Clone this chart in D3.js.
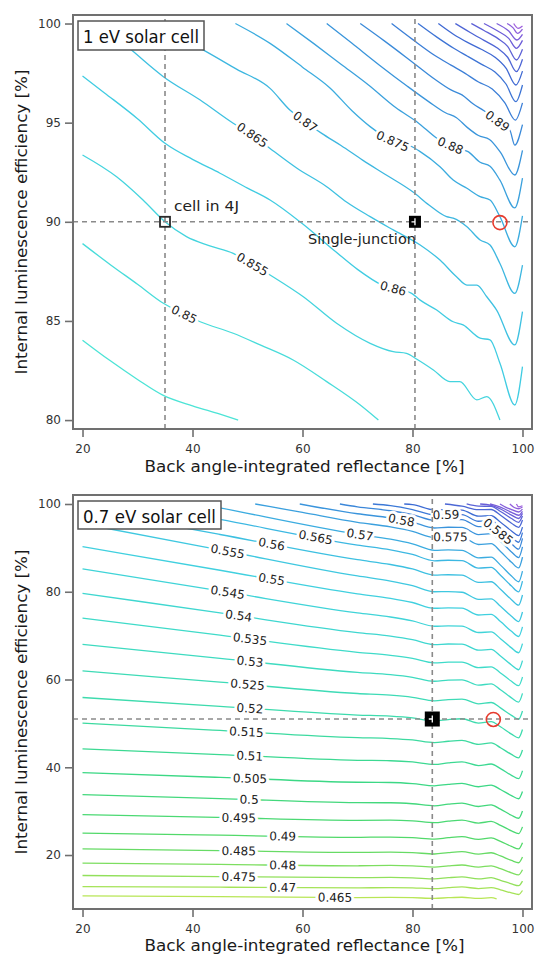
<!DOCTYPE html>
<html><head><meta charset="utf-8">
<script src="https://cdnjs.cloudflare.com/ajax/libs/d3/7.8.5/d3.min.js"></script>
<style>
body{margin:0;background:#fff;}
svg{display:block;}
text{font-family:"DejaVu Sans",Verdana,sans-serif;}
</style>
</head><body>
<svg id="chart" width="537" height="956"></svg>
<script>
// ---------------- DATA ----------------
const xTicks = [20, 40, 60, 80, 100];
const topYTicks = [80, 85, 90, 95, 100];
const bottomYTicks = [20, 40, 60, 80, 100];
const xTitle = "Back angle-integrated reflectance [%]";
const yTitle = "Internal luminescence efficiency [%]";
const topTitle = "1 eV solar cell";
const bottomTitle = "0.7 eV solar cell";

// top panel (1 eV) contour levels and their traced lines [reflectance, efficiency]
const topLevels = [0.845,0.85,0.855,0.86,0.865,0.87,0.875,0.88,0.885,0.89,0.895,0.9,0.905,0.91,0.915,0.92,0.925,0.93,0.935];
const topPaths = [
 [[20,84.03],[25,83.0],[30,82.05],[34.6,81.26],[40,80.72],[45,80.3],[48.3,80.0]],
 [[20,88.9],[25,87.85],[30,86.85],[34.7,85.89],[38,85.4],[41.4,84.96],[47.4,84.38],[52.3,83.79],[58.3,83.03],[64.4,81.94],[70.5,80.76],[73.8,80.0]],
 [[20,93.37],[26.2,92.27],[31,91.1],[35,90.0],[38.9,89.25],[43,88.8],[47.4,88.41],[51,87.85],[54.1,87.32],[60.15,86.22],[66.2,84.88],[72.3,83.87],[76.5,83.45],[78.9,83.37],[80.8,83.07],[83.8,82.53],[86.8,81.94],[88.6,81.94],[91.7,81.02],[93.5,81.18],[95.9,80.0]],
 [[20,97.35],[24,96.5],[30,95.2],[35,93.96],[40,93.15],[45,92.45],[50,91.7],[54.1,91.1],[60,89.9],[66,88.5],[70,87.6],[74.5,86.8],[79.85,86.39],[81.4,86.05],[84.4,85.55],[87.4,84.96],[89.2,84.8],[92.3,84.13],[94.1,84.05],[95.9,82.87],[98.6,80.76],[100,82.7]],
 [[23,100],[28.9,98.66],[34.7,97.32],[41.4,96.14],[47.4,94.97],[50.9,94.38],[54.1,93.7],[59,92.7],[64.4,91.77],[68,91.0],[72.3,90.26],[76.5,89.59],[81.4,88.83],[85.0,88.07],[88.0,87.23],[89.9,86.81],[91.7,86.81],[93.5,86.22],[95.3,85.55],[98.6,83.79],[100,85.47]],
 [[33.5,100],[38,99.25],[42,98.66],[48,97.7],[54.1,96.73],[57.7,95.64],[60.5,95.05],[63.5,94.46],[67,93.85],[71,93.1],[75,92.4],[80.1,91.5],[83,90.85],[86.2,90.26],[87.4,90.18],[89.9,89.75],[92.3,89.08],[94.1,88.83],[95.9,87.9],[98.6,86.39],[100,87.82]],
 [[47.8,100],[54.1,99.0],[60,97.8],[65,96.75],[69,95.6],[72.3,94.8],[76.4,94.07],[79.5,93.85],[81.4,93.54],[85,92.78],[87.4,92.11],[89.9,91.69],[92.3,91.27],[94.1,91.1],[95.9,90.26],[98.6,88.74],[100,90.3]],
 [[57.1,100],[62,99.0],[67,97.95],[72,96.9],[77,95.75],[81,95.0],[84.5,94.2],[86.9,93.85],[88.5,93.7],[90.1,93.54],[92.3,93.0],[94.1,92.8],[95.9,92.1],[98.6,90.7],[100,92.2]],
 [[64.4,100],[69,99.0],[74,97.9],[79,96.85],[83,96.05],[86,95.5],[88,95.25],[90,94.75],[92,94.35],[94,94.15],[96,93.5],[98.6,92.36],[100,93.6]],
 [[70.5,100],[75,99.1],[80,98.05],[84,97.2],[87,96.65],[89,96.4],[91,95.95],[93,95.6],[95.4,95.1],[97.7,94.63],[98.6,93.87],[100,94.9]],
 [[76.2,100],[80,99.2],[84,98.4],[87,97.9],[89.5,97.5],[92,97.05],[94.5,96.7],[96.8,96.0],[98.7,95.13],[100,96.0]],
 [[81,100],[84.5,99.3],[87.5,98.75],[90,98.35],[92.5,97.95],[95,97.55],[97,96.95],[98.8,96.06],[100,96.9]],
 [[84.7,100],[87.5,99.45],[90,99.05],[92.5,98.7],[95,98.3],[97,97.75],[98.8,96.9],[100,97.6]],
 [[87.8,100],[90.5,99.55],[93,99.15],[95.5,98.75],[97.3,98.3],[98.9,97.57],[100,98.2]],
 [[90.7,100],[93,99.65],[95.5,99.25],[97.3,98.85],[98.9,98.16],[100,98.7]],
 [[93,100],[95.5,99.62],[97.5,99.25],[98.9,98.75],[100,99.15]],
 [[95.3,100],[97.5,99.62],[99,99.17],[100,99.45]],
 [[97.2,100],[98.3,99.78],[99.1,99.5],[100,99.72]],
 [[98.4,100],[99.2,99.76],[100,99.88]]
];
// contour labels: [level, reflectance position]
const topLabels = [[0.85,38.5],[0.855,50.9],[0.86,76.5],[0.865,50.9],[0.87,60.5],[0.875,76.4],[0.88,86.9],[0.89,95.45]];
const topColorLevels = [0.845, 0.86, 0.875, 0.89, 0.905, 0.92, 0.935];
const topColorValues = ["#4CE4D6", "#40CCE2", "#3BACDF", "#3A8AD9", "#3F69D3", "#6C5DD8", "#9E5EDD"];

// bottom panel (0.7 eV)
const bottomLevels = [0.465,0.47,0.475,0.48,0.485,0.49,0.495,0.5,0.505,0.51,0.515,0.52,0.525,0.53,0.535,0.54,0.545,0.55,0.555,0.56,0.565,0.57,0.575,0.58,0.585,0.59,0.595,0.6,0.605,0.61,0.615,0.62,0.625,0.63];
const bottomPaths = [
 [[20,10.71],[45,10.51],[70,10.31],[76,10.34],[80,10.28],[84,10.12],[86.5,10.28],[89,10.38],[92,10.11],[94.3,10.27],[95.3,10.0]],
 [[20,12.82],[45,12.67],[70,12.52],[76,12.59],[80,12.53],[84,12.34],[86.5,12.56],[89,12.73],[92,12.36],[94.3,12.58],[96,12.08],[98,11.37],[99.3,11.01],[100,11.92]],
 [[20,15.33],[45,15.08],[70,14.83],[76,14.89],[80,14.81],[84,14.57],[86.5,14.83],[89,15.0],[92,14.57],[94.3,14.83],[96,14.25],[98,13.43],[99.3,13.02],[100,14.05]],
 [[20,18.15],[45,17.85],[70,17.55],[76,17.62],[80,17.52],[84,17.25],[86.5,17.53],[89,17.73],[92,17.25],[94.3,17.53],[96,16.88],[98,15.95],[99.3,15.49],[100,16.65]],
 [[20,21.41],[45,21.01],[70,20.61],[76,20.66],[80,20.55],[84,20.24],[86.5,20.55],[89,20.76],[92,20.21],[94.3,20.52],[96,19.79],[98,18.76],[99.3,18.24],[100,19.53]],
 [[20,24.99],[45,24.52],[70,24.04],[76,24.1],[80,23.96],[84,23.61],[86.5,23.95],[89,24.18],[92,23.57],[94.3,23.91],[96,23.11],[98,21.97],[99.3,21.39],[100,22.81]],
 [[20,29.22],[45,28.57],[70,27.92],[76,27.94],[80,27.78],[84,27.38],[86.5,27.73],[89,27.97],[92,27.29],[94.3,27.65],[96,26.76],[98,25.51],[99.3,24.88],[100,26.42]],
 [[20,33.78],[45,32.86],[70,31.93],[76,31.91],[80,31.69],[84,31.22],[86.5,31.58],[89,31.82],[92,31.06],[94.3,31.42],[96,30.45],[98,29.07],[99.3,28.38],[100,30.04]],
 [[20,38.79],[45,37.69],[70,36.59],[76,36.53],[80,36.28],[84,35.78],[86.5,36.12],[89,36.34],[92,35.56],[94.3,35.91],[96,34.93],[98,33.54],[99.3,32.83],[100,34.49]],
 [[20,44.19],[45,42.89],[70,41.59],[76,41.49],[80,41.21],[84,40.65],[86.5,41.01],[89,41.23],[92,40.38],[94.3,40.75],[96,39.68],[98,38.17],[99.3,37.41],[100,39.19]],
 [[20,50.04],[45,48.39],[70,46.74],[76,46.55],[80,46.22],[84,45.61],[86.5,45.93],[89,46.12],[92,45.22],[94.3,45.56],[96,44.46],[98,42.93],[99.3,42.15],[100,43.92]],
 [[20,55.9],[45,53.9],[70,51.9],[76,51.65],[80,51.25],[84,50.56],[86.5,50.88],[89,51.06],[92,50.07],[94.3,50.41],[96,49.22],[98,47.56],[99.3,46.71],[100,48.6]],
 [[20,61.96],[45,59.39],[70,56.81],[76,56.42],[80,55.93],[84,55.15],[86.5,55.41],[89,55.53],[92,54.47],[94.3,54.76],[96,53.53],[98,51.83],[99.3,50.94],[100,52.82]],
 [[20,68.03],[45,64.83],[70,61.63],[76,61.1],[80,60.51],[84,59.6],[86.5,59.84],[89,59.92],[92,58.73],[94.3,59.0],[96,57.66],[98,55.81],[99.3,54.84],[100,56.83]],
 [[20,74.0],[45,70.1],[70,66.2],[76,65.5],[80,64.8],[84,63.78],[86.5,63.95],[89,63.96],[92,62.69],[94.3,62.89],[96,61.5],[98,59.59],[99.3,58.59],[100,60.56]],
 [[20,79.65],[45,75.18],[70,70.7],[76,69.89],[80,69.08],[84,67.94],[86.5,68.09],[89,68.07],[92,66.68],[94.3,66.86],[96,65.37],[98,63.31],[99.3,62.23],[100,64.31]],
 [[20,85.19],[45,80.19],[70,75.19],[76,74.25],[80,73.36],[84,72.14],[86.5,72.23],[89,72.16],[92,70.71],[94.3,70.84],[96,69.31],[98,67.21],[99.3,66.1],[100,68.17]],
 [[20,90.27],[45,84.9],[70,79.52],[76,78.5],[80,77.55],[84,76.24],[86.5,76.33],[89,76.25],[92,74.7],[94.3,74.84],[96,73.21],[98,70.98],[99.3,69.8],[100,71.99]],
 [[20,95.5],[45,89.55],[70,83.6],[76,82.44],[80,81.4],[84,80.0],[86.5,80.03],[89,79.89],[92,78.27],[94.3,78.36],[96,76.69],[98,74.42],[99.3,73.21],[100,75.38]],
 [[20,98.8],[45,93.05],[70,87.3],[76,86.21],[80,85.19],[84,83.8],[86.5,83.88],[89,83.79],[92,82.15],[94.3,82.28],[96,80.56],[98,78.2],[99.3,76.95],[100,79.26]],
 [[30,100],[45,96.49],[70,90.64],[76,89.54],[80,88.5],[84,87.06],[86.5,87.18],[89,87.09],[92,85.39],[94.3,85.55],[96,83.76],[98,81.29],[99.3,79.98],[100,82.42]],
 [[41.3,100],[45,99.11],[70,93.11],[76,91.97],[80,90.91],[84,89.45],[86.5,89.55],[89,89.45],[92,87.73],[94.3,87.88],[96,86.07],[98,83.59],[99.3,82.28],[100,84.71]],
 [[51.4,100],[60,98.07],[70,95.82],[76,94.77],[80,93.77],[84,92.37],[86.5,92.5],[89,92.44],[92,90.77],[94.3,90.95],[96,89.17],[98,86.72],[99.3,85.42],[100,87.87]],
 [[59.5,100],[70,97.78],[76,96.82],[80,95.87],[84,94.53],[86.5,94.7],[89,94.68],[92,93.04],[94.3,93.26],[96,91.5],[98,89.08],[99.3,87.8],[100,90.25]],
 [[66.8,100],[70,99.36],[76,98.46],[80,97.56],[84,96.26],[86.5,96.46],[89,96.46],[92,94.86],[94.3,95.1],[96,93.36],[98,90.96],[99.3,89.7],[100,92.16]],
 [[72.8,100],[76,99.63],[80,98.74],[84,97.49],[86.5,97.62],[89,97.57],[92,96.07],[94.3,96.24],[96,94.64],[98,92.44],[99.3,91.28],[100,93.48]],
 [[78.5,100],[80,99.86],[84,98.66],[86.5,98.72],[89,98.62],[92,97.22],[94.3,97.32],[96,95.86],[98,93.86],[99.3,92.8],[100,94.74]],
 [[85.9,100],[89,99.5],[92,98.71],[94.3,98.74],[96,97.42],[98,95.62],[99.3,94.66],[100,96.34]],
 [[89.85,100],[92,99.51],[94.3,99.47],[96,98.29],[98,96.69],[99.3,95.83],[100,97.25]],
 [[92.3,100],[94.3,99.7],[96,98.86],[98,97.46],[99.3,96.7],[100,97.86]],
 [[94.1,100],[96,99.3],[98,98.1],[99.3,97.44],[100,98.34]],
 [[95.9,100],[97,99.24],[98,98.74],[99.3,98.18],[100,98.82]],
 [[97.7,100],[98.5,99.2],[99.3,98.92],[100,99.3]],
 [[98.9,100],[99.3,99.35],[100,99.6]]
];
const bottomLabels = [[0.465,65.9],[0.47,56.4],[0.475,48.4],[0.48,56.4],[0.485,48.4],[0.49,56.4],[0.495,48.4],[0.5,50.3],[0.505,50.45],[0.51,50.4],[0.515,49.8],[0.52,50.45],[0.525,50.0],[0.53,50.45],[0.535,50.45],[0.54,48.4],[0.545,46.4],[0.55,54.4],[0.555,46.4],[0.56,54.4],[0.565,62.4],[0.57,70.45],[0.575,86.9],[0.58,78.0],[0.585,95.6],[0.59,86.1]];
const bottomColorLevels = [0.465, 0.475, 0.49, 0.505, 0.52, 0.535, 0.55, 0.565, 0.58, 0.595, 0.61, 0.63];
const bottomColorValues = ["#B8E656", "#92E05B", "#52D96A", "#3CD885", "#3DDBAD", "#3FDBC9", "#40D0DF", "#3CB8E2", "#3A94DC", "#3D6CD4", "#6A5ED8", "#9E5EDD"];

// reference points: [reflectance, efficiency]
const topCell4J = [35, 90];
const topSingle = [80.45, 90];
const topCircle = [95.9, 89.96];
const bottomSingle = [83.6, 51.0];
const bottomCircle = [94.7, 50.9];
const annotations = ["cell in 4J", "Single-junction"];

// ---------------- DRAW ----------------
const svg = d3.select("#chart");
const defs = svg.append("defs");

function interpY(path, xv) {
  for (let i = 0; i < path.length - 1; i++) {
    const a = path[i], b = path[i + 1];
    if (xv >= a[0] && xv <= b[0]) {
      const t = (xv - a[0]) / (b[0] - a[0]);
      return a[1] + t * (b[1] - a[1]);
    }
  }
  return path[path.length - 1][1];
}

function drawPanel(cfg) {
  const { x, y, levels, paths, labels, color, id, yTicks, title, titleBox, single, circle, cell4J, sqSize, xTitleDy } = cfg;
  const [x0, x1] = x.range();
  const [y0, y1] = y.range(); // y0 bottom, y1 top
  defs.append("clipPath").attr("id", id).append("rect")
    .attr("x", x0).attr("y", y1).attr("width", x1 - x0).attr("height", y0 - y1);

  const g = svg.append("g");
  const line = d3.line().x(d => x(d[0])).y(d => y(d[1])).curve(d3.curveMonotoneX);
  const cg = g.append("g").attr("clip-path", `url(#${id})`);
  cg.selectAll("path.c").data(levels).join("path").attr("class", "c")
    .attr("d", (lv, i) => line(paths[i]))
    .attr("fill", "none").attr("stroke", lv => color(lv)).attr("stroke-width", 1.3);

  // contour labels
  labels.forEach(([lv, xv]) => {
    const p = paths[levels.indexOf(lv)];
    const yv = interpY(p, xv);
    const ya = interpY(p, xv - 1.5), yb = interpY(p, xv + 1.5);
    const ang = Math.atan2(y(yb) - y(ya), x(xv + 1.5) - x(xv - 1.5)) * 180 / Math.PI;
    cg.append("text")
      .attr("transform", `translate(${x(xv)},${y(yv)}) rotate(${ang})`)
      .attr("text-anchor", "middle").attr("dy", "0.36em")
      .attr("font-size", 12).attr("fill", "#222")
      .attr("stroke", "#fff").attr("stroke-width", 6).attr("paint-order", "stroke")
      .attr("stroke-linejoin", "round")
      .text(String(lv));
  });

  // dashed guides
  const dash = g.append("g").attr("clip-path", `url(#${id})`)
    .attr("stroke", "#8a8a8a").attr("stroke-width", 1.6).attr("stroke-dasharray", "5,4");
  const vx = cell4J ? [cell4J[0], single[0]] : [single[0]];
  vx.forEach(v => dash.append("line").attr("x1", x(v)).attr("x2", x(v)).attr("y1", y0).attr("y2", y1));
  dash.append("line").attr("x1", x0).attr("x2", x1).attr("y1", y(single[1])).attr("y2", y(single[1]));

  // markers
  if (cell4J) {
    g.append("rect").attr("x", x(cell4J[0]) - 5).attr("y", y(cell4J[1]) - 5)
      .attr("width", 10).attr("height", 10).attr("fill", "none")
      .attr("stroke", "#2a2a2a").attr("stroke-width", 1.8);
  }
  const sx = x(single[0]), sy = y(single[1]);
  g.append("rect").attr("x", sx - sqSize / 2).attr("y", sy - sqSize / 2)
    .attr("width", sqSize).attr("height", sqSize).attr("fill", "#000");
  g.append("path").attr("d", `M${sx - 3.5},${sy}H${sx + 0.5}M${sx},${sy - 3.5}V${sy + 3.5}`)
    .attr("stroke", "#fff").attr("stroke-width", 1.3);
  g.append("circle").attr("cx", x(circle[0])).attr("cy", y(circle[1])).attr("r", 7)
    .attr("fill", "none").attr("stroke", "#E63B2E").attr("stroke-width", 1.6);

  // annotations
  if (cell4J) {
    g.append("text").attr("x", x(cell4J[0]) + 9).attr("y", y(cell4J[1]) - 11)
      .attr("font-size", 14).attr("fill", "#222")
      .attr("textLength", 65).attr("lengthAdjust", "spacingAndGlyphs").text(annotations[0]);
    g.append("text").attr("x", sx + 1).attr("y", sy + 22).attr("text-anchor", "end")
      .attr("font-size", 14).attr("fill", "#222")
      .attr("textLength", 108).attr("lengthAdjust", "spacingAndGlyphs").text(annotations[1]);
  }

  // title box
  g.append("rect").attr("x", titleBox[0]).attr("y", titleBox[1]).attr("width", titleBox[2]).attr("height", titleBox[3])
    .attr("fill", "#fff").attr("stroke", "#555").attr("stroke-width", 1.5);
  g.append("text").attr("x", titleBox[0] + 5).attr("y", titleBox[1] + 22)
    .attr("font-size", 17).attr("fill", "#111")
    .attr("textLength", titleBox[2] - 10).attr("lengthAdjust", "spacingAndGlyphs").text(title);

  // axes
  const ax = g.append("g").attr("transform", `translate(0,${y0})`)
    .call(d3.axisBottom(x).tickValues(xTicks).tickSize(8).tickSizeOuter(0).tickPadding(7));
  const ay = g.append("g").attr("transform", `translate(${x0},0)`)
    .call(d3.axisLeft(y).tickValues(yTicks).tickSize(8).tickSizeOuter(0).tickPadding(4));
  [ax, ay].forEach(a => {
    a.select(".domain").remove();
    a.selectAll(".tick line").attr("stroke", "#707070").attr("stroke-width", 1.6);
    a.selectAll(".tick text").attr("font-size", 12).attr("fill", "#333")
      .attr("font-family", '"DejaVu Sans",Verdana,sans-serif');
  });

  // frame
  g.append("rect").attr("x", x0).attr("y", y1).attr("width", x1 - x0).attr("height", y0 - y1)
    .attr("fill", "none").attr("stroke", "#707070").attr("stroke-width", 2);

  // axis titles
  g.append("text").attr("x", (x0 + x1) / 2 + 2).attr("y", y0 + xTitleDy).attr("text-anchor", "middle")
    .attr("font-size", 16).attr("fill", "#1a1a1a")
    .attr("textLength", 320).attr("lengthAdjust", "spacingAndGlyphs").text(xTitle);
  g.append("text").attr("transform", `translate(27,${(y0 + y1) / 2}) rotate(-90)`)
    .attr("text-anchor", "middle").attr("font-size", 16).attr("fill", "#1a1a1a")
    .attr("textLength", 305).attr("lengthAdjust", "spacingAndGlyphs").text(yTitle);
}

const xTop = d3.scaleLinear().domain([18.27, 101.73]).range([73, 532]);
const yTop = d3.scaleLinear().domain([79.55, 100.43]).range([429, 15]);
const topColor = d3.scaleLinear().domain(topColorLevels).range(topColorValues).interpolate(d3.interpolateRgb);

drawPanel({
  x: xTop, y: yTop, levels: topLevels, paths: topPaths, labels: topLabels, color: topColor,
  id: "clipTop", yTicks: topYTicks, title: topTitle, titleBox: [78, 21, 126, 29],
  single: topSingle, circle: topCircle, cell4J: topCell4J, sqSize: 12, xTitleDy: 43
});

const xBot = d3.scaleLinear().domain([18.27, 101.73]).range([73, 532]);
const yBot = d3.scaleLinear().domain([7.7, 102.05]).range([909, 495]);
const bottomColor = d3.scaleLinear().domain(bottomColorLevels).range(bottomColorValues).interpolate(d3.interpolateRgb);

drawPanel({
  x: xBot, y: yBot, levels: bottomLevels, paths: bottomPaths, labels: bottomLabels, color: bottomColor,
  id: "clipBot", yTicks: bottomYTicks, title: bottomTitle, titleBox: [78, 501, 143, 28],
  single: bottomSingle, circle: bottomCircle, cell4J: null, sqSize: 15, xTitleDy: 42
});
</script>
</body></html>
